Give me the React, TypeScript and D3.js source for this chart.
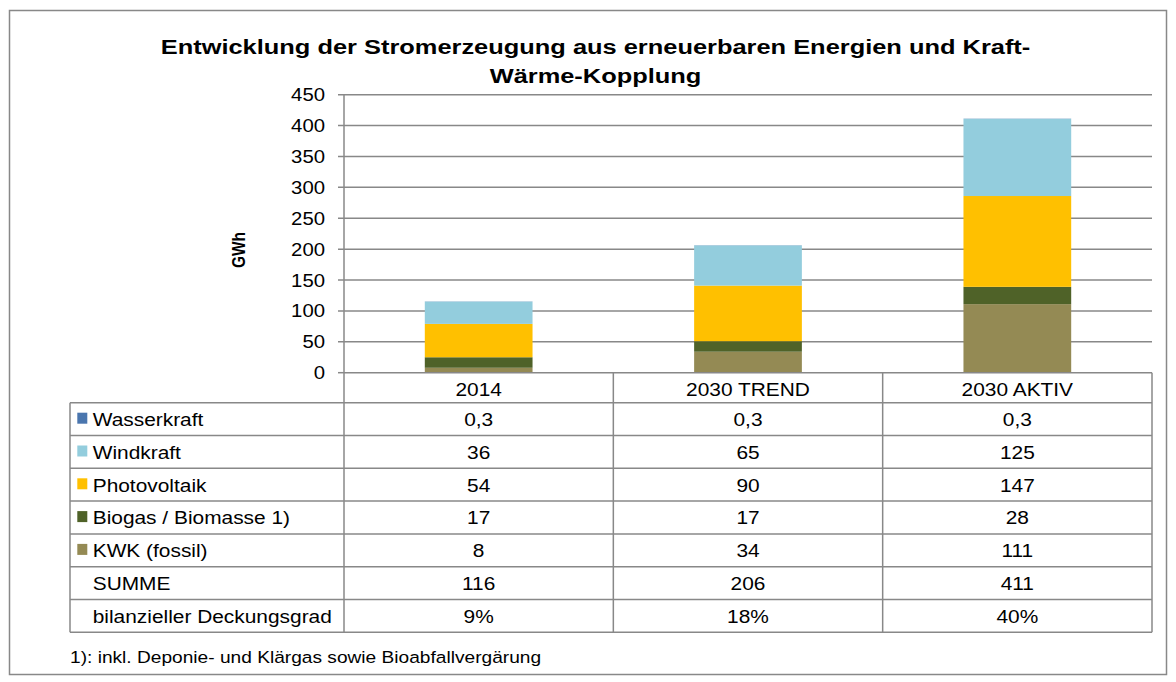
import React from 'react';
import * as d3 from 'd3';

const CATEGORIES = ['2014', '2030 TREND', '2030 AKTIV'];
// stack order bottom -> top
const SERIES = ['KWK (fossil)', 'Biogas / Biomasse 1)', 'Photovoltaik', 'Windkraft', 'Wasserkraft'];
const KWK = [8, 34, 111];
const BIOGAS = [17, 17, 28];
const PV = [54, 90, 147];
const WIND = [36, 65, 125];
const WASSER = [0.3, 0.3, 0.3];
const SUMME = [116, 206, 411];
const DECKUNG = ['9%', '18%', '40%'];
const Y_TICKS = [0, 50, 100, 150, 200, 250, 300, 350, 400, 450];

const COLORS: Record<string, string> = {
  'Wasserkraft': '#4a76ae',
  'Windkraft': '#93cddd',
  'Photovoltaik': '#ffc000',
  'Biogas / Biomasse 1)': '#4f6228',
  'KWK (fossil)': '#948a54',
};

const VALUES: Record<string, number[]> = {
  'KWK (fossil)': KWK,
  'Biogas / Biomasse 1)': BIOGAS,
  'Photovoltaik': PV,
  'Windkraft': WIND,
  'Wasserkraft': WASSER,
};

const TABLE_ORDER = ['Wasserkraft', 'Windkraft', 'Photovoltaik', 'Biogas / Biomasse 1)', 'KWK (fossil)', 'SUMME', 'bilanzieller Deckungsgrad'];

const W = 1176, H = 682;
const SX = 1.13; // the source is slightly stretched horizontally
const FONT = '"Liberation Sans", Arial, Helvetica, sans-serif';
const LINE = '#888888';

const deFormat = d3.formatLocale({ decimal: ',', thousands: '.', grouping: [3], currency: ['', ' €'] }).format(',~r');

function T({ x, y, anchor = 'start', size = 18.5, weight = 'normal', sx = SX, children }: any) {
  return (
    <text transform={`translate(${x},${y}) scale(${sx},1)`} textAnchor={anchor}
      style={{ fontFamily: FONT, fontSize: size, fontWeight: weight, fill: '#000' }}>
      {children}
    </text>
  );
}

export default function App() {
  const plotL = 344, plotR = 1152, plotT = 94.7, plotB = 372.7;
  const tableL = 70, tableB = 632.3;

  const x = d3.scaleBand<string>().domain(CATEGORIES).range([plotL, plotR]).paddingInner(0.6).paddingOuter(0.3);
  const col = d3.scaleBand<string>().domain(CATEGORIES).range([plotL, plotR]);
  const y = d3.scaleLinear().domain([0, 450]).range([plotB, plotT]);
  const rows = d3.scaleBand<string>().domain(TABLE_ORDER).range([402.7, tableB]);

  const table = CATEGORIES.map((c, i) => {
    const o: any = { cat: c };
    SERIES.forEach(s => { o[s] = VALUES[s][i]; });
    return o;
  });
  const stacked = d3.stack<any>().keys(SERIES)(table);

  const cellText = (r: string, i: number) => {
    if (r === 'SUMME') return String(SUMME[i]);
    if (r === 'bilanzieller Deckungsgrad') return DECKUNG[i];
    return deFormat(VALUES[r][i]);
  };

  return (
    <svg width={W} height={H} style={{ position: 'absolute', left: 0, top: 0, background: '#fff' }}>
      <rect x={9.5} y={10.5} width={1157} height={664} fill="#fff" stroke={LINE} strokeWidth={1.5} />

      {/* title */}
      <T x={595.5} y={54} anchor="middle" size={20.5} sx={1.24} weight="bold">Entwicklung der Stromerzeugung aus erneuerbaren Energien und Kraft-</T>
      <T x={595.5} y={83} anchor="middle" size={20.5} sx={1.24} weight="bold">Wärme-Kopplung</T>

      {/* grid + ticks */}
      {Y_TICKS.map(t => (
        <g key={t}>
          <line x1={plotL - 6} x2={t === 0 ? plotL : plotR} y1={y(t)} y2={y(t)} stroke={LINE} strokeWidth={1.5} />
          <T x={325} y={y(t) + 6.5} anchor="end" size={18}>{t}</T>
        </g>
      ))}

      <text transform={`translate(244.5,250) rotate(-90) scale(1,${SX})`} textAnchor="middle"
        style={{ fontFamily: FONT, fontSize: 15.5, fontWeight: 'bold', fill: '#000' }}>GWh</text>

      {/* bars */}
      {stacked.map(layer => (
        <g key={layer.key} fill={COLORS[layer.key]}>
          {layer.map((d, i) => (
            <rect key={i} x={x(CATEGORIES[i])} width={x.bandwidth()}
              y={y(d[1])} height={Math.max(0, y(d[0]) - y(d[1]))} />
          ))}
        </g>
      ))}

      {/* data table */}
      <line x1={plotL} x2={plotR} y1={plotB} y2={plotB} stroke={LINE} strokeWidth={1.5} />
      {TABLE_ORDER.map(r => (
        <line key={r} x1={tableL} x2={plotR} y1={rows(r)} y2={rows(r)} stroke={LINE} strokeWidth={1.5} />
      ))}
      <line x1={tableL} x2={plotR} y1={tableB} y2={tableB} stroke={LINE} strokeWidth={1.5} />
      <line x1={tableL} x2={tableL} y1={rows(TABLE_ORDER[0])} y2={tableB} stroke={LINE} strokeWidth={1.5} />
      <line x1={plotL} x2={plotL} y1={plotT} y2={tableB} stroke={LINE} strokeWidth={1.5} />
      {CATEGORIES.map(c => (
        <line key={c} x1={col(c)! + col.bandwidth()} x2={col(c)! + col.bandwidth()} y1={plotB} y2={tableB} stroke={LINE} strokeWidth={1.5} />
      ))}

      {CATEGORIES.map(c => (
        <T key={c} x={col(c)! + col.bandwidth() / 2} y={plotB + 23} anchor="middle">{c}</T>
      ))}

      {TABLE_ORDER.map(r => {
        const ry = rows(r)!;
        return (
          <g key={r}>
            {COLORS[r] && <rect x={77.3} y={ry + 10} width={10} height={11} fill={COLORS[r]} />}
            <T x={92.7} y={ry + 23.3}>{r}</T>
            {CATEGORIES.map((c, i) => (
              <T key={c} x={col(c)! + col.bandwidth() / 2} y={ry + 23.3} anchor="middle">{cellText(r, i)}</T>
            ))}
          </g>
        );
      })}

      <T x={70} y={663} size={16.5} sx={1.16}>1): inkl. Deponie- und Klärgas sowie Bioabfallvergärung</T>
    </svg>
  );
}
